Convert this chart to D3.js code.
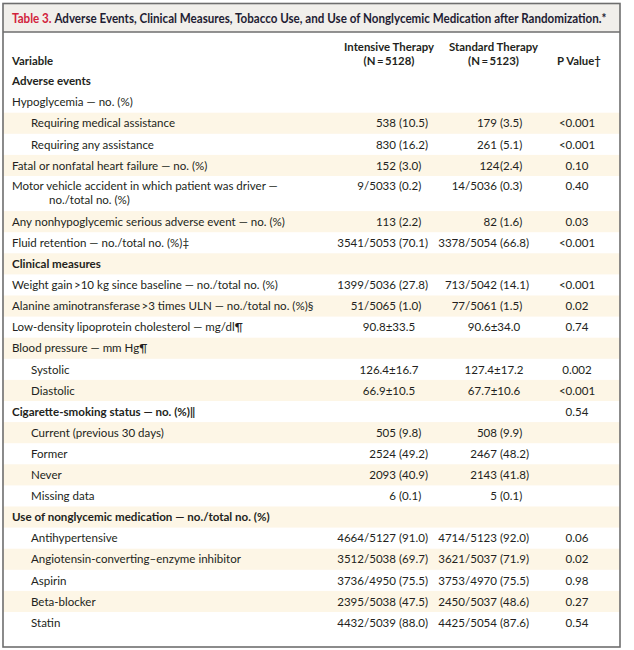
<!DOCTYPE html>
<html><head><meta charset="utf-8">
<script src="https://cdn.jsdelivr.net/npm/d3@7"></script>
<style>body{margin:0;background:#fff}</style>
</head><body><svg id="c" width="634" height="650"></svg>
<script>
// ---------------- data ----------------
const titleLabel = "Table 3.";
const titleText = "Adverse Events, Clinical Measures, Tobacco Use, and Use of Nonglycemic Medication after Randomization.*";
const variableHeader = "Variable";
const columnKeys = ["intensive", "standard", "p"];
const columnHeaders = [["Intensive Therapy", "(N\u2009=\u20095128)"], ["Standard Therapy", "(N\u2009=\u20095123)"], ["P Value\u2020"]];

const variables = [
  "Adverse events",
  "Hypoglycemia \u2014 no. (%)",
  "Requiring medical assistance",
  "Requiring any assistance",
  "Fatal or nonfatal heart failure \u2014 no. (%)",
  "Motor vehicle accident in which patient was driver \u2014\nno./total no. (%)",
  "Any nonhypoglycemic serious adverse event \u2014 no. (%)",
  "Fluid retention \u2014 no./total no. (%)\u2021",
  "Clinical measures",
  "Weight gain\u2009>10 kg since baseline \u2014 no./total no. (%)",
  "Alanine aminotransferase\u2009>3 times ULN \u2014 no./total no. (%)\u00a7",
  "Low-density lipoprotein cholesterol \u2014 mg/dl\u00b6",
  "Blood pressure \u2014 mm Hg\u00b6",
  "Systolic",
  "Diastolic",
  "Cigarette-smoking status \u2014 no. (%)\u2016",
  "Current (previous 30 days)",
  "Former",
  "Never",
  "Missing data",
  "Use of nonglycemic medication \u2014 no./total no. (%)",
  "Antihypertensive",
  "Angiotensin-converting\u2013enzyme inhibitor",
  "Aspirin",
  "Beta-blocker",
  "Statin"
];
const rowTypes = ["section","item","sub","sub","item","item","item","item",
  "section","item","item","item","item","sub","sub",
  "section","sub","sub","sub","sub",
  "section","sub","sub","sub","sub","sub"];
const intensive = ["", "", "538 (10.5)", "830 (16.2)", "152 (3.0)", "9/5033 (0.2)", "113 (2.2)", "3541/5053 (70.1)",
  "", "1399/5036 (27.8)", "51/5065 (1.0)", "90.8\u00b133.5", "", "126.4\u00b116.7", "66.9\u00b110.5",
  "", "505 (9.8)", "2524 (49.2)", "2093 (40.9)", "6 (0.1)",
  "", "4664/5127 (91.0)", "3512/5038 (69.7)", "3736/4950 (75.5)", "2395/5038 (47.5)", "4432/5039 (88.0)"];
const standard = ["", "", "179 (3.5)", "261 (5.1)", "124(2.4)", "14/5036 (0.3)", "82 (1.6)", "3378/5054 (66.8)",
  "", "713/5042 (14.1)", "77/5061 (1.5)", "90.6\u00b134.0", "", "127.4\u00b117.2", "67.7\u00b110.6",
  "", "508 (9.9)", "2467 (48.2)", "2143 (41.8)", "5 (0.1)",
  "", "4714/5123 (92.0)", "3621/5037 (71.9)", "3753/4970 (75.5)", "2450/5037 (48.6)", "4425/5054 (87.6)"];
const pValues = ["", "", "<0.001", "<0.001", "0.10", "0.40", "0.03", "<0.001",
  "", "<0.001", "0.02", "0.74", "", "0.002", "<0.001",
  "0.54", "", "", "", "",
  "", "0.06", "0.02", "0.98", "0.27", "0.54"];

// ---------------- drawing ----------------
const FONT = "Lato, 'Open Sans', sans-serif";
const INK = "#231f20";
const svg = d3.select("#c");

// horizontal compression factor so that a reference string reaches its width
function fitK(str, weight, size, target) {
  const t = svg.append("text").attr("font-family", FONT).attr("font-weight", weight)
    .attr("font-size", size).text(str);
  const w = t.node().getComputedTextLength();
  t.remove();
  return target / w;
}
const BODY = 12, BOLD = 12, TITLE = 12.8, HEAD = 12;
const kBody = fitK("Motor vehicle accident in which patient was driver \u2014", 400, BODY, 266);
const kBold = fitK("Use of nonglycemic medication \u2014 no./total no. (%)", 700, BOLD, 258);
const kTitle = fitK(titleLabel + " " + titleText, 700, TITLE, 594);
const kHead = fitK("Intensive Therapy", 700, HEAD, 90);

function txt(g, x, yy, str, o) {
  return g.append("text")
    .attr("transform", `translate(${x},${yy}) scale(${o.k},1)`)
    .attr("dy", "0.35em")
    .attr("text-anchor", o.anchor || "start")
    .attr("font-family", FONT)
    .attr("font-weight", o.weight || 400)
    .attr("font-size", o.size)
    .attr("fill", o.fill || INK)
    .text(str);
}

// layout
const box = {x0: 3, x1: 620, y0: 3.5, y1: 647};
const rowH = 21.1, lineGap = 14.6, firstTop = 70.5;
const lines = variables.map(v => v.split("\n"));
const heights = lines.map(l => rowH + (l.length - 1) * 14);
const tops = [];
heights.reduce((acc, h, i) => { tops[i] = acc; return acc + h; }, 0);
const totalH = d3.sum(heights);
const y = d3.scaleLinear().domain([0, totalH]).range([firstTop, firstTop + totalH]);

const indentX = d3.scaleOrdinal().domain(["section", "item", "sub", "cont"]).range([12, 12, 31, 49]);
const parenX = d3.scaleOrdinal().domain(columnKeys).range([399, 500, 577]);
const centerX = d3.scaleOrdinal().domain(columnKeys).range([389, 494, 577]);
const headX = d3.scaleOrdinal().domain(columnKeys).range([389, 493.5, 579]);

// header band
svg.append("rect").attr("x", box.x0).attr("y", box.y0).attr("width", box.x1 - box.x0)
  .attr("height", 32 - box.y0).attr("fill", "#f1efeb");

// row shading
svg.append("g").selectAll("rect")
  .data(variables.map((v, i) => i).filter(i => i >= 2 && i % 2 === 0))
  .join("rect")
  .attr("x", box.x0).attr("width", box.x1 - box.x0)
  .attr("y", i => y(tops[i])).attr("height", i => heights[i])
  .attr("fill", "#fdf6e6");

// border + header line
svg.append("line").attr("x1", box.x0).attr("x2", box.x1).attr("y1", 32).attr("y2", 32)
  .attr("stroke", "#6e6e6e").attr("stroke-width", 1.5);
svg.append("rect").attr("x", box.x0).attr("y", box.y0).attr("width", box.x1 - box.x0)
  .attr("height", box.y1 - box.y0).attr("fill", "none").attr("stroke", "#6e6e6e").attr("stroke-width", 1.6);

// title
const tt = txt(svg, 12, 18.5, "", {k: kTitle, size: TITLE, weight: 700});
tt.append("tspan").attr("fill", "#d2233c").text(titleLabel + " ");
tt.append("tspan").attr("fill", "#1f1d33").text(titleText);

// column headers
txt(svg, 12, 61, variableHeader, {k: kHead, size: HEAD, weight: 700});
columnKeys.forEach((k, ci) => {
  const hl = columnHeaders[ci];
  const startY = 61 - (hl.length - 1) * 14;
  hl.forEach((s, li) => {
    txt(svg, headX(k), startY + li * 14, s, {k: kHead, size: HEAD, weight: 700, anchor: "middle"});
  });
});

// variable labels
const labelG = svg.append("g");
variables.forEach((v, i) => {
  const cy = y(tops[i]) + rowH / 2 - (lines[i].length > 1 ? 1 : 0);
  const sec = rowTypes[i] === "section";
  lines[i].forEach((ln, li) => {
    txt(labelG, li === 0 ? indentX(rowTypes[i]) : indentX("cont"), cy + li * lineGap, ln,
      {k: sec ? kBold : kBody, size: sec ? BOLD : BODY, weight: sec ? 700 : 400});
  });
});

// values
const valG = svg.append("g");
const spaceW = BODY * 0.26 * kBody;
[intensive, standard, pValues].forEach((col, ci) => {
  const k = columnKeys[ci];
  col.forEach((s, i) => {
    if (!s) return;
    const cy = y(tops[i]) + rowH / 2 - (lines[i].length > 1 ? 1 : 0);
    const pi = s.indexOf("(");
    if (k !== "p" && pi > 0) {
      const left = s.slice(0, pi).trimEnd();
      const gap = s[pi - 1] === " " ? spaceW : 0.5;
      txt(valG, parenX(k) - gap, cy, left, {k: kBody, size: BODY, anchor: "end"});
      txt(valG, parenX(k), cy, s.slice(pi), {k: kBody, size: BODY, anchor: "start"});
    } else {
      txt(valG, centerX(k), cy, s, {k: kBody, size: BODY, anchor: "middle"});
    }
  });
});
</script>
</body></html>
